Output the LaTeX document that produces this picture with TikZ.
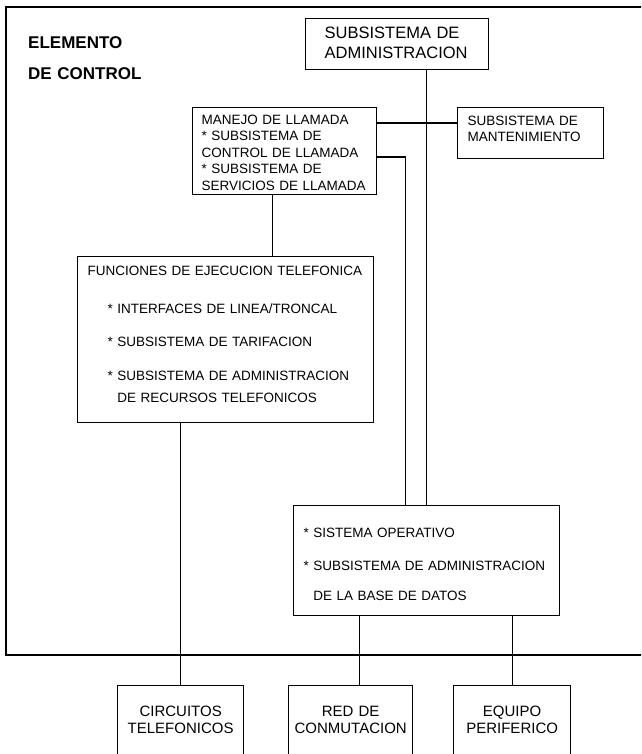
\documentclass[tikz,border=0pt]{standalone}
\usepackage{fontspec}
\setmainfont{Liberation Sans}
\tikzset{
    caja/.style={
        draw=black,
        line width=1.3pt,
        anchor=north west,
        inner ysep=0pt,
        align=left,
        font=\fontsize{13.5}{16.5}\selectfont
    },
    cajagrande/.style={
        caja,
        font=\fontsize{16.5}{20}\selectfont
    },
    cajaexterna/.style={
        caja,
        align=center,
        inner xsep=2pt,
        text height=30.4pt,
        text depth=60pt,
        font=\fontsize{15}{17}\selectfont
    },
    titulo/.style={
        anchor=north west,
        inner sep=0pt,
        align=left,
        text width=150pt,
        text height=18.1pt,
        font=\fontsize{17}{31}\selectfont\bfseries
    },
    enlace/.style={
        draw=black,
        line width=1.3pt
    },
    marco/.style={
        draw=black,
        line width=1.6pt
    }
}

\begin{document}
\begin{tikzpicture}[x=1pt,y=-1pt]
        \useasboundingbox (0,0) rectangle (641,754);
        \clip (0,0) rectangle (641,754);
        \draw[marco] (650,7) -- (6,7) -- (6,655) -- (650,655);

        \node[titulo] (titulo) at (28,30)
            {ELEMENTO\\DE CONTROL};
        \node[cajagrande,text width=145pt,inner xsep=19pt,text height=19.9pt,text depth=31.1pt] (admin) at (305,18)
            {SUBSISTEMA DE\\ADMINISTRACION};
        \node[caja,text width=166pt,inner xsep=9pt,text height=16.8pt,text depth=70.2pt] (manejo) at (192,107)
            {MANEJO DE LLAMADA\\{*} SUBSISTEMA DE\\CONTROL DE LLAMADA\\{*} SUBSISTEMA DE\\SERVICIOS DE LLAMADA};
        \node[caja,text width=126pt,inner xsep=10pt,text height=17.8pt,text depth=33.2pt] (mant) at (457,107)
            {SUBSISTEMA DE\\MANTENIMIENTO};
        \node[caja,text width=276pt,inner xsep=10pt,text height=18.8pt,text depth=147.2pt] (func) at (77,256)
            {FUNCIONES DE EJECUCION TELEFONICA\\[21.5pt]
             \hspace*{20pt}* INTERFACES DE LINEA/TRONCAL\\[16.5pt]
             \hspace*{20pt}* SUBSISTEMA DE TARIFACION\\[17.5pt]
             \hspace*{20pt}* SUBSISTEMA DE ADMINISTRACION\\[5.5pt]
             \hspace*{20pt}\hphantom{*~}DE RECURSOS TELEFONICOS};
        \node[caja,text width=246pt,inner xsep=10pt,text height=31.8pt,text depth=78.2pt] (os) at (293,505)
            {* SISTEMA OPERATIVO\\[16.5pt]
             {*} SUBSISTEMA DE ADMINISTRACION\\[13.5pt]
             \hphantom{*~}DE LA BASE DE DATOS};
        \node[cajaexterna,text width=122pt] (circ) at (117,685)
            {CIRCUITOS\\TELEFONICOS};
        \node[cajaexterna,text width=120pt] (red) at (288,685)
            {RED DE\\CONMUTACION};
        \node[cajaexterna,text width=113pt] (equipo) at (453,685)
            {EQUIPO\\PERIFERICO};

        \draw[enlace] (admin.south -| os.north) -- (os.north);
        \draw[enlace] ([yshift=10pt]mant.west) -- ([yshift=10pt]mant.west -| manejo.east);
        \draw[enlace] ([yshift=-6pt]manejo.east) -| ([xshift=-21pt]os.north);
        \draw[enlace] ([xshift=-12pt]manejo.south) -- ([xshift=-12pt]manejo.south |- func.north);
        \draw[enlace] (circ.north) -- (circ.north |- func.south);
        \draw[enlace] ([xshift=9pt]red.north) -- ([xshift=9pt]red.north |- os.south);
        \draw[enlace] (equipo.north) -- (equipo.north |- os.south);
    \end{tikzpicture}
\end{document}
